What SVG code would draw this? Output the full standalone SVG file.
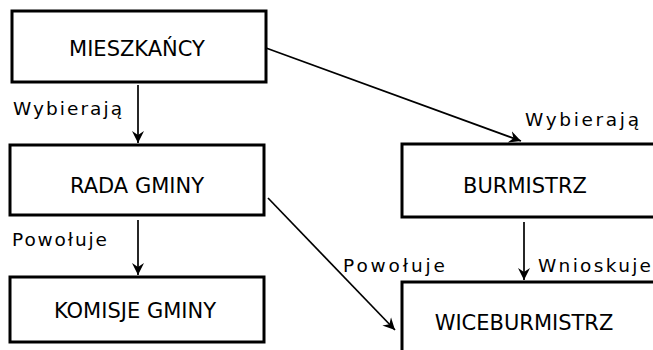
<svg xmlns="http://www.w3.org/2000/svg" width="653" height="350" viewBox="0 0 653 350">
<defs>
<style>
.box{fill:#fff;stroke:#000;stroke-width:3}
.bt{font-family:"DejaVu Sans",Verdana,sans-serif;font-size:21px;fill:#000;text-anchor:middle}
.lb{font-family:"DejaVu Sans",Verdana,sans-serif;font-size:18.5px;fill:#000}
.cn{stroke:#000;stroke-width:1.7;fill:none}
</style>
<marker id="ah" markerUnits="userSpaceOnUse" markerWidth="14" markerHeight="14" viewBox="0 0 14 14" refX="12" refY="7" orient="auto">
<path d="M0,1 L12,7 L0,13 L4,7 z" fill="#000"/>
</marker>
</defs>
<rect width="653" height="350" fill="#fff"/>
<g id="connectors">
<path class="cn" d="M138,85 V143" marker-end="url(#ah)"/>
<path class="cn" d="M266,48 L521,141" marker-end="url(#ah)"/>
<path class="cn" d="M138,220 V275" marker-end="url(#ah)"/>
<path class="cn" d="M268,198 L395,330" marker-end="url(#ah)"/>
<path class="cn" d="M524,222 V280" marker-end="url(#ah)"/>
</g>
<g id="labels">
<text class="lb" x="13" y="115" textLength="109" lengthAdjust="spacing">Wybierają</text>
<text class="lb" x="525" y="126" textLength="114" lengthAdjust="spacing">Wybierają</text>
<text class="lb" x="12" y="246" textLength="95" lengthAdjust="spacing">Powołuje</text>
<text class="lb" x="343" y="272" textLength="102" lengthAdjust="spacing">Powołuje</text>
<text class="lb" x="538" y="272" textLength="113" lengthAdjust="spacing">Wnioskuje</text>
</g>
<g id="mieszkancy">
<rect class="box" x="12" y="11" width="254" height="71"/>
<text class="bt" x="137" y="56">MIESZKAŃCY</text>
</g>
<g id="rada-gminy">
<rect class="box" x="10" y="145" width="254" height="70"/>
<text class="bt" x="137" y="193">RADA GMINY</text>
</g>
<g id="komisje-gminy">
<rect class="box" x="10" y="277" width="254" height="65"/>
<text class="bt" x="135" y="318">KOMISJE GMINY</text>
</g>
<g id="burmistrz">
<rect class="box" x="402" y="144" width="260" height="73"/>
<text class="bt" x="525" y="193">BURMISTRZ</text>
</g>
<g id="wiceburmistrz">
<rect class="box" x="402" y="282" width="260" height="80"/>
<text class="bt" x="524" y="330">WICEBURMISTRZ</text>
</g>
</svg>
